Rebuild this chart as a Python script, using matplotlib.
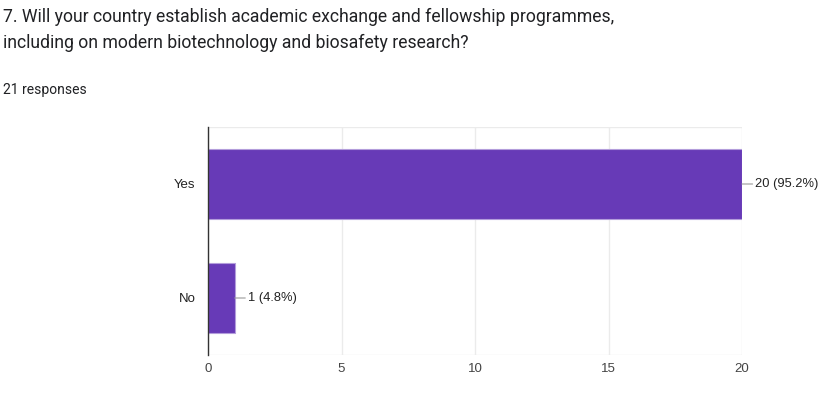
import matplotlib
matplotlib.use('Agg')
import matplotlib.pyplot as plt

categories = ['Yes', 'No']
counts = [20, 1]
labels = ['20 (95.2%)', '1 (4.8%)']
xticks = [0, 5, 10, 15, 20]

BAR = '#673ab7'
W, H = 823, 405

fig = plt.figure(figsize=(W / 100, H / 100), dpi=100)
fig.patch.set_facecolor('white')

fig.text(3 / W, 1 - 17 / H, '7. Will your country establish academic exchange and fellowship programmes,',
         fontsize=12.7, family='Roboto', color='#202124', va='center')
fig.text(3 / W, 1 - 43 / H, 'including on modern biotechnology and biosafety research?',
         fontsize=12.7, family='Roboto', color='#202124', va='center')
fig.text(3 / W, 1 - 90 / H, '21 responses', fontsize=10, family='Roboto', color='#202124', va='center')

ax = fig.add_axes([208 / W, 1 - 355 / H, (742 - 208) / W, (355 - 127) / H])
y = list(range(len(categories)))
ax.barh(y, counts, height=0.62, color=BAR, edgecolor='#b39ddb', linewidth=0.8, zorder=3)
ax.set_ylim(len(categories) - 0.5, -0.5)
ax.set_xlim(0, 20)
ax.set_xticks(xticks)
ax.set_xticklabels([str(t) for t in xticks], family='Liberation Sans', fontsize=9.5, color='#444444')
ax.set_yticks(y)
ax.set_yticklabels(categories, family='Liberation Sans', fontsize=9.5, color='#222222')
ax.tick_params(axis='x', length=0, pad=6)
ax.tick_params(axis='y', length=0, pad=9)
ax.grid(axis='x', color='#ebebeb', linewidth=1, zorder=0)
for side in ['top', 'right', 'bottom']:
    ax.spines[side].set_visible(False)
ax.axhline(-0.5, color='#ebebeb', linewidth=1, zorder=0)
ax.axhline(len(categories) - 0.5, color='#ebebeb', linewidth=1, zorder=0)
ax.spines['left'].set_color('#333333')
ax.spines['left'].set_linewidth(1)
ax.spines['left'].set_zorder(4)

for yi, c, lab in zip(y, counts, labels):
    ax.annotate(lab, xy=(c, yi), xytext=(c + 0.5, yi), va='center', ha='left',
                fontsize=9.3, family='Liberation Sans', color='#222222', annotation_clip=False,
                arrowprops=dict(arrowstyle='-', color='#999999', lw=0.8, shrinkA=0, shrinkB=0))

fig.savefig('out.png', dpi=100, facecolor='white')
